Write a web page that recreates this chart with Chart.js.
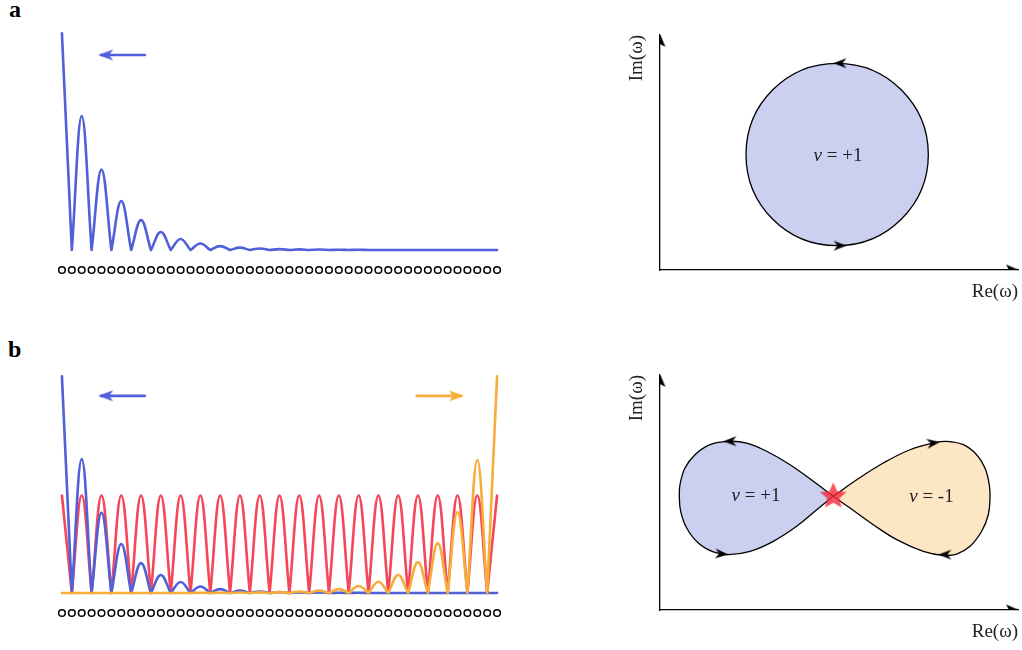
<!DOCTYPE html>
<html>
<head>
<meta charset="utf-8">
<script src="https://cdn.jsdelivr.net/npm/chart.js@4.4.1/dist/chart.umd.min.js"></script>
<style>
html, body { margin: 0; padding: 0; background: #fff; overflow: hidden; }
body { width: 1022px; height: 650px; position: relative; }
canvas { position: absolute; }
.tag { position: absolute; font: bold 24px/24px "Liberation Serif", serif; color: #000; }
</style>
</head>
<body>
<div class="tag" style="left:9px;top:-3px">a</div>
<div class="tag" style="left:8px;top:337px">b</div>
<canvas id="chainA" width="447" height="247" style="left:56px;top:29px"></canvas>
<canvas id="chainB" width="447" height="247" style="left:56px;top:372px"></canvas>
<canvas id="planeA" width="422" height="300" style="left:600px;top:20px"></canvas>
<canvas id="planeB" width="422" height="290" style="left:600px;top:360px"></canvas>
<script>
const BLUE = '#5060d8', RED = '#f4475a', ORANGE = '#f7ad3a';
const LAVENDER = '#cbcff0', PEACH = '#fde6c4';

// chain: 45 sites, amplitude peaks on even sites, nodes on odd sites
const siteCount = 45;
const bluePeaks = [1.0, 0.618, 0.371, 0.226, 0.138, 0.083, 0.051, 0.030, 0.018, 0.011, 0.007, 0.004,
                   0.003, 0.002, 0.001, 0.001, 0, 0, 0, 0, 0, 0, 0];
const orangePeaks = [0, 0, 0, 0, 0, 0, 0, 0.001, 0.001, 0.002, 0.003, 0.004,
                     0.007, 0.011, 0.018, 0.032, 0.052, 0.083, 0.142, 0.229, 0.374, 0.614, 1.0];
const redPeaks = [0.45, 0.45, 0.45, 0.45, 0.45, 0.45, 0.45, 0.45, 0.45, 0.45, 0.45, 0.45,
                  0.45, 0.45, 0.45, 0.45, 0.45, 0.45, 0.45, 0.45, 0.45, 0.45, 0.45];
const latticeRow = -0.092;
const leftArrowX = [8.39, 3.97];
const rightArrowX = [35.87, 40.35];
const arrowRowA = 0.90, arrowRowB = 0.91;

// complex plane (Re, Im) contours
const circleRe = [2.698, 1.978, 1.257, 0.961, 1.257, 1.978, 2.698, 2.998, 2.698, 1.978, 1.257];
const circleIm = [1.992, 2.287, 1.992, 1.278, 0.564, 0.269, 0.564, 1.278, 1.992, 2.287, 1.992];
const leftLobeRe = [1.936, 1.713, 1.453, 1.192, 0.969, 0.763, 0.559, 0.391, 0.279, 0.223, 0.216,
                    0.231, 0.298, 0.428, 0.596, 0.763, 1.006, 1.266, 1.527, 1.751, 1.936];
const leftLobeIm = [1.258, 1.424, 1.607, 1.756, 1.847, 1.866, 1.829, 1.718, 1.571, 1.386, 1.258,
                    1.092, 0.907, 0.741, 0.642, 0.612, 0.649, 0.760, 0.926, 1.110, 1.258];
const rightLobeRe = [1.936, 2.198, 2.495, 2.793, 3.054, 3.203, 3.389, 3.538, 3.631, 3.679, 3.687,
                     3.668, 3.594, 3.464, 3.315, 3.165, 2.942, 2.645, 2.383, 2.123, 1.936];
const rightLobeIm = [1.258, 1.441, 1.626, 1.773, 1.847, 1.866, 1.829, 1.718, 1.571, 1.386, 1.239,
                     1.054, 0.871, 0.705, 0.619, 0.605, 0.649, 0.778, 0.944, 1.128, 1.258];
const circleArrowRe = [2.011, 2.011], circleArrowIm = [2.287, 0.269], circleArrowDir = [180, 0];
const lobeArrowRe = [0.782, 0.689, 3.054, 3.184];
const lobeArrowIm = [1.867, 0.620, 1.848, 0.612];
const lobeArrowDir = [180, 5, -8, 180];
const crossRe = [1.936], crossIm = [1.258];
const windingText = ['+1', '+1', '-1'];
const windingRe = [1.989, 1.073, 3.033];
const windingIm = [1.261, 1.258, 1.247];

function headImage(color, len, halfW, notch, tipShift) {
    const c = document.createElement('canvas');
    c.width = Math.ceil(2 * (len + tipShift) + 4);
    c.height = Math.ceil(2 * halfW + 4);
    const g = c.getContext('2d');
    const cy = c.height / 2, tip = c.width / 2 + tipShift, back = tip - len;
    g.fillStyle = color;
    g.beginPath();
    g.moveTo(tip, cy);
    g.lineTo(back, cy - halfW);
    g.lineTo(back + notch, cy);
    g.lineTo(back, cy + halfW);
    g.closePath();
    g.fill();
    return c;
}

function starImage(R, r, color) {
    const c = document.createElement('canvas');
    c.width = c.height = 2 * R + 4;
    const g = c.getContext('2d');
    const m = c.width / 2;
    g.fillStyle = color;
    g.beginPath();
    for (let i = 0; i < 10; i++) {
        const a = -Math.PI / 2 + i * Math.PI / 5, rr = i % 2 ? r : R;
        g.lineTo(m + rr * Math.cos(a), m + rr * Math.sin(a));
    }
    g.closePath();
    g.fill();
    return c;
}

function archPoints(peaks) {
    const pts = [];
    peaks.forEach((h, k) => {
        if (k > 0) pts.push({x: 2 * k - 1, y: 0}, {x: 2 * k - 1, y: 0});
        pts.push({x: 2 * k, y: h});
    });
    return pts;
}
const zip = (xs, ys) => xs.map((x, i) => ({x, y: ys[i]}));

const sites = Array.from({length: siteCount}, (_, i) => i);
const lattice = {
    data: sites.map(i => ({x: i, y: latticeRow})),
    showLine: false, pointRadius: 3.3, pointBorderWidth: 1.5,
    pointBorderColor: '#000', pointBackgroundColor: '#fff'
};
function curve(peaks, color) {
    return {data: archPoints(peaks), borderColor: color, borderWidth: 2.6, pointRadius: 0};
}
function arrow(xs, y, color, dir) {
    return {
        data: [{x: xs[0], y}, {x: xs[1], y}], borderColor: color, borderWidth: 2.6,
        pointRadius: [0, 6], pointStyle: headImage(color, 15, 5.5, 4, 3), rotation: dir, tension: 0
    };
}

function chainChart(id, datasets) {
    return new Chart(document.getElementById(id), {
        type: 'line',
        data: {datasets},
        options: {
            responsive: false, animation: false, events: [],
            layout: {padding: 0, autoPadding: false},
            plugins: {legend: {display: false}, tooltip: {enabled: false}},
            scales: {
                x: {type: 'linear', min: -0.6, max: 44.6, display: false},
                y: {min: -0.12, max: 1.02, display: false}
            },
            elements: {line: {tension: 0.4, borderJoinStyle: 'round', borderCapStyle: 'round'}}
        }
    });
}

chainChart('chainA', [
    arrow(leftArrowX, arrowRowA, BLUE, 180),
    curve(bluePeaks, BLUE),
    lattice
]);
chainChart('chainB', [
    arrow(leftArrowX, arrowRowB, BLUE, 180),
    arrow(rightArrowX, arrowRowB, ORANGE, 0),
    curve(orangePeaks, ORANGE),
    curve(bluePeaks, BLUE),
    curve(redPeaks, RED),
    lattice
]);

const windingLabels = {
    id: 'windingLabels',
    afterDatasetsDraw(chart, args, opts) {
        const {ctx, scales: {x, y}} = chart;
        (opts.items || []).forEach(it => {
            const px = x.getPixelForValue(it.x), py = y.getPixelForValue(it.y);
            ctx.save();
            ctx.textBaseline = 'middle';
            ctx.fillStyle = '#222';
            ctx.font = 'italic 19px "Liberation Serif"';
            const w1 = ctx.measureText('ν').width;
            ctx.font = '19px "Liberation Serif"';
            const rest = ' = ' + it.text;
            const w2 = ctx.measureText(rest).width;
            const x0 = px - (w1 + w2) / 2;
            ctx.fillText(rest, x0 + w1, py);
            ctx.font = 'italic 19px "Liberation Serif"';
            ctx.fillText('ν', x0, py);
            ctx.restore();
        });
    }
};

const axisHead = headImage('#000', 13, 5.5, 3, 1);
const curveHead = headImage('#000', 13, 5, 4, 6.5);
const axisArrows = {
    data: [{x: 4, y: 0}, {x: 0, y: 2.6}], showLine: false,
    pointRadius: 5, pointStyle: axisHead, rotation: [0, -90]
};
function contour(xs, ys, fillColor, loop) {
    const last = xs.length - 1;
    const ds = {
        data: zip(xs, ys), borderColor: '#000', borderWidth: 1.3, pointRadius: 0,
        backgroundColor: fillColor, fill: 'shape', tension: 0.4
    };
    if (loop) {
        ds.segment = {
            borderColor: c => (c.p0DataIndex === 0 || c.p1DataIndex === last) ? 'rgba(0,0,0,0)' : '#000'
        };
    }
    return ds;
}
function marks(xs, ys, dirs) {
    return {data: zip(xs, ys), showLine: false, pointRadius: 5, pointStyle: curveHead, rotation: dirs};
}

function planeChart(id, datasets, items, bottomPad, xHeight) {
    const font = {family: 'Liberation Serif', size: 19};
    return new Chart(document.getElementById(id), {
        type: 'line',
        data: {datasets},
        plugins: [windingLabels],
        options: {
            responsive: false, animation: false, events: [],
            layout: {padding: {top: 15, right: 4, left: 0, bottom: 0}, autoPadding: false},
            plugins: {legend: {display: false}, tooltip: {enabled: false}, windingLabels: {items}},
            scales: {
                x: {
                    type: 'linear', min: 0, max: 4,
                    grid: {display: false}, ticks: {display: false},
                    border: {display: true, color: '#000', width: 1.3},
                    title: {display: true, text: 'Re(ω)', align: 'end', color: '#222', font,
                            padding: {top: 0, bottom: bottomPad}},
                    afterFit: s => { s.height = xHeight; }
                },
                y: {
                    min: 0, max: 2.6,
                    grid: {display: false}, ticks: {display: false},
                    border: {display: true, color: '#000', width: 1.3},
                    title: {display: true, text: 'Im(ω)', align: 'end', color: '#222', font,
                            padding: {top: 26, bottom: 0}},
                    afterFit: s => { s.width = 60; }
                }
            },
            elements: {line: {borderJoinStyle: 'round'}}
        }
    });
}

planeChart('planeA', [
    marks(circleArrowRe, circleArrowIm, circleArrowDir),
    axisArrows,
    contour(circleRe, circleIm, LAVENDER, true)
], [{text: windingText[0], x: windingRe[0], y: windingIm[0]}], 16.6, 50);

planeChart('planeB', [
    {data: zip(crossRe, crossIm), showLine: false, pointRadius: 6,
     pointStyle: starImage(14, 6.5, 'rgba(245,40,60,0.8)')},
    marks(lobeArrowRe, lobeArrowIm, lobeArrowDir),
    axisArrows,
    contour(leftLobeRe, leftLobeIm, LAVENDER, false),
    contour(rightLobeRe, rightLobeIm, PEACH, false)
], [{text: windingText[1], x: windingRe[1], y: windingIm[1]},
    {text: windingText[2], x: windingRe[2], y: windingIm[2]}], 6.6, 40);
</script>
</body>
</html>
